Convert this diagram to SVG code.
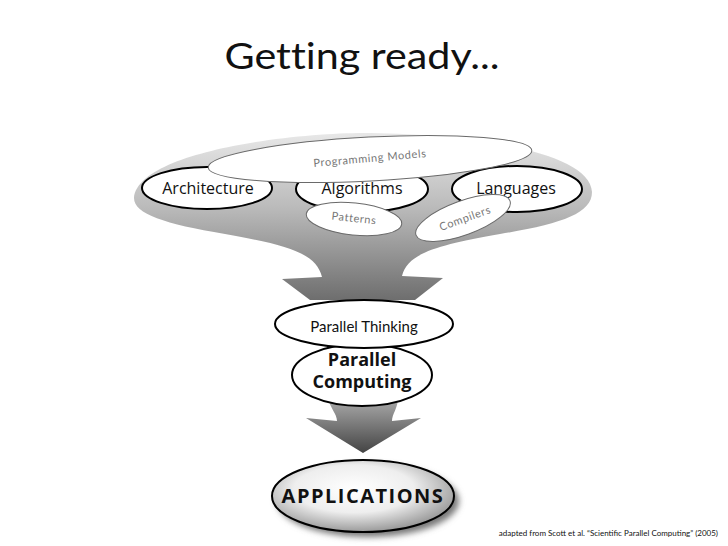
<svg xmlns="http://www.w3.org/2000/svg" width="728" height="546" viewBox="0 0 728 546">
<defs>
<linearGradient id="gFunnel" x1="0" y1="133" x2="0" y2="300" gradientUnits="userSpaceOnUse">
<stop offset="0" stop-color="#e8e8e8"/>
<stop offset="0.45" stop-color="#bababa"/>
<stop offset="1" stop-color="#6e6e6e"/>
</linearGradient>
<linearGradient id="gArrow" x1="0" y1="400" x2="0" y2="453" gradientUnits="userSpaceOnUse">
<stop offset="0" stop-color="#a8a8a8"/>
<stop offset="1" stop-color="#444444"/>
</linearGradient>
<radialGradient id="gApp" cx="0.45" cy="0.4" r="0.6">
<stop offset="0" stop-color="#ffffff"/>
<stop offset="0.55" stop-color="#eeeeee"/>
<stop offset="1" stop-color="#9a9a9a"/>
</radialGradient>
<filter id="shadow" x="-20%" y="-20%" width="140%" height="150%">
<feGaussianBlur stdDeviation="3"/>
</filter>
</defs>
<style>
.main{fill:#fff;stroke:#000;stroke-width:2}
.sub{fill:#fff;stroke:#6a6a6a;stroke-width:1}
.lbl{font-family:"Open Sans","Liberation Sans",sans-serif;font-size:16px;fill:#111;text-anchor:middle}
.sl{font-family:"Lato","Liberation Sans",sans-serif;font-size:11px;fill:#777;text-anchor:middle;letter-spacing:0.6px}
.gill{font-family:"Lato","Liberation Sans",sans-serif;fill:#111;text-anchor:middle;font-variant-ligatures:none}
.bold{font-family:"Open Sans","Liberation Sans",sans-serif;font-weight:bold;fill:#111;text-anchor:middle}
</style>
<text x="362" y="69" class="gill" font-size="37" textLength="275" lengthAdjust="spacingAndGlyphs">Getting ready...</text>
<g id="connectors">
<path d="M134,198 C138,152 290,133 363,133 C450,133 590,148 592,192 C592,214 560,224 500,234 C440,245 408,252 402,276 L443,278 L415,300 L310,300 L282,279 L322,277 C316,252 285,245 225,234 C165,224 134,214 134,198 Z" fill="url(#gFunnel)"/>
<path d="M328,398 L398,398 C398,408 392,414 392,421 L421,418 L363,453 L306,418 L337,421 C337,414 330,408 328,398 Z" fill="url(#gArrow)"/>
</g>
<g id="architecture">
<ellipse cx="207" cy="188" rx="65" ry="21" class="main"/>
<text x="208" y="194" class="lbl">Architecture</text>
</g>
<g id="algorithms">
<ellipse cx="362" cy="189" rx="66" ry="23" class="main"/>
<text x="362" y="194" class="lbl">Algorithms</text>
</g>
<g id="languages">
<ellipse cx="517" cy="189" rx="65" ry="23" class="main"/>
<text x="516" y="194" class="lbl">Languages</text>
</g>
<g id="programming-models">
<ellipse cx="370" cy="159" rx="162" ry="22" transform="rotate(-3 370 159)" class="sub"/>
<text x="370" y="162" class="sl" transform="rotate(-5 370 159)">Programming Models</text>
</g>
<g id="patterns">
<ellipse cx="354" cy="219" rx="48" ry="16" transform="rotate(6 354 219)" class="sub"/>
<text x="354" y="222" class="sl" font-size="10" transform="rotate(6 354 219)">Patterns</text>
</g>
<g id="compilers">
<ellipse cx="463" cy="218" rx="50" ry="17" transform="rotate(-20 463 218)" class="sub"/>
<text x="465" y="222" class="sl" transform="rotate(-20 465 218)">Compilers</text>
</g>
<g id="parallel-computing">
<ellipse cx="362" cy="375" rx="70" ry="31" class="main"/>
<text x="362" y="366" class="bold" font-size="18">Parallel</text>
<text x="362" y="388" class="bold" font-size="18">Computing</text>
</g>
<g id="parallel-thinking">
<ellipse cx="364" cy="324" rx="89" ry="24" class="main"/>
<text x="364" y="332" class="gill" font-size="15">Parallel Thinking</text>
</g>
<g id="applications">
<ellipse cx="368" cy="501" rx="91" ry="36" fill="#777" filter="url(#shadow)"/>
<ellipse cx="363" cy="496" rx="91" ry="36" fill="url(#gApp)" stroke="#000" stroke-width="2"/>
<text x="363" y="503" class="bold" font-size="20" letter-spacing="1.5">APPLICATIONS</text>
</g>
<text x="718" y="536" font-family="Lato, 'Liberation Sans', sans-serif" font-size="8" fill="#111" text-anchor="end">adapted from Scott et al. “Scientific Parallel Computing” (2005)</text>
</svg>
